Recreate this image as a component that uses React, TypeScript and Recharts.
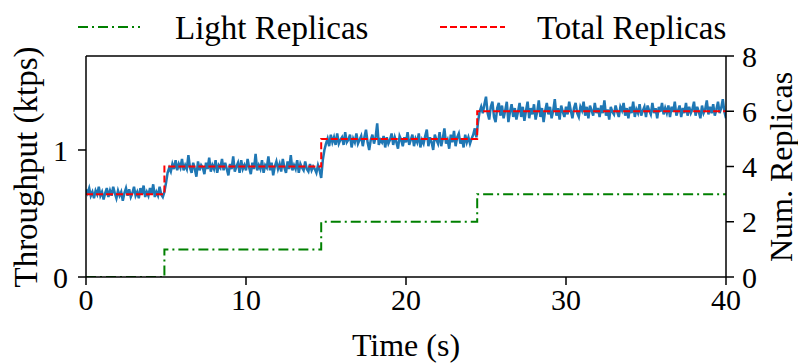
import React from 'react';
import { LineChart, Line, XAxis, YAxis, ReferenceLine, Legend } from 'recharts';

const FONT = '"Liberation Serif", "Times New Roman", serif';

// Throughput (ktps), sampled every 0.1 s from t = 0 to t = 40
const sampleStep = 0.1;
const throughput = [
  0.69,0.66,0.70,0.64,0.67,0.62,0.68,0.65,0.71,0.64,
  0.67,0.61,0.66,0.70,0.63,0.68,0.64,0.71,0.66,0.62,
  0.68,0.64,0.67,0.60,0.66,0.70,0.64,0.69,0.63,0.66,
  0.71,0.64,0.67,0.62,0.70,0.65,0.72,0.63,0.67,0.64,
  0.70,0.65,0.73,0.63,0.67,0.64,0.71,0.65,0.63,0.67,
  0.74,0.82,0.86,0.83,0.89,0.85,0.92,0.84,0.89,0.86,
  0.93,0.84,0.88,0.85,0.96,0.86,0.82,0.90,0.85,0.79,
  0.91,0.84,0.88,0.86,0.81,0.90,0.85,0.94,0.83,0.88,
  0.85,0.92,0.82,0.88,0.86,0.93,0.84,0.90,0.85,0.80,
  0.89,0.85,0.95,0.83,0.87,0.90,0.82,0.92,0.85,0.88,
  0.84,0.93,0.86,0.81,0.90,0.85,0.97,0.84,0.88,0.85,
  0.92,0.82,0.88,0.86,0.95,0.84,0.90,0.80,0.87,0.91,
  0.85,0.89,0.83,0.93,0.86,0.82,0.91,0.85,0.96,0.84,
  0.88,0.85,0.92,0.82,0.89,0.86,0.84,0.91,0.85,0.83,
  0.89,0.84,0.87,0.85,0.82,0.88,0.84,0.78,0.92,1.00,
  1.05,1.09,1.03,1.12,1.06,1.10,1.04,1.13,1.05,1.08,
  1.10,1.04,1.14,1.06,1.08,1.12,1.02,1.09,1.06,1.13,
  1.05,1.08,1.11,1.03,1.10,1.16,1.06,1.00,1.08,1.12,
  1.05,1.10,1.21,1.04,1.08,1.06,1.11,1.02,1.10,1.05,
  1.08,1.13,1.04,1.10,1.06,1.01,1.11,1.08,1.03,1.10,
  1.06,1.14,1.04,1.08,1.12,1.03,1.09,1.06,1.13,1.02,
  1.08,1.05,1.11,1.16,1.03,1.10,1.06,1.00,1.12,1.08,
  1.05,1.14,1.03,1.09,1.17,1.05,1.08,1.01,1.12,1.06,
  1.15,1.03,1.10,1.13,1.05,1.09,1.02,1.12,1.06,1.10,
  1.05,1.09,1.12,1.17,1.10,1.22,1.30,1.34,1.29,1.36,
  1.42,1.29,1.24,1.34,1.38,1.26,1.22,1.33,1.37,1.27,
  1.35,1.25,1.31,1.38,1.22,1.30,1.36,1.26,1.33,1.24,
  1.30,1.37,1.26,1.34,1.23,1.31,1.38,1.25,1.33,1.28,
  1.36,1.24,1.30,1.39,1.26,1.33,1.22,1.31,1.37,1.28,
  1.34,1.25,1.31,1.40,1.27,1.33,1.24,1.35,1.30,1.26,
  1.34,1.28,1.38,1.31,1.25,1.33,1.37,1.29,1.26,1.34,
  1.31,1.38,1.27,1.34,1.25,1.35,1.31,1.27,1.37,1.29,
  1.33,1.26,1.35,1.29,1.39,1.27,1.32,1.24,1.34,1.30,
  1.28,1.35,1.30,1.26,1.34,1.31,1.37,1.27,1.33,1.25,
  1.34,1.29,1.38,1.26,1.32,1.29,1.36,1.27,1.31,1.34,
  1.26,1.35,1.31,1.28,1.37,1.29,1.33,1.25,1.34,1.30,
  1.37,1.28,1.33,1.29,1.35,1.26,1.34,1.30,1.38,1.27,
  1.31,1.35,1.26,1.33,1.29,1.37,1.27,1.34,1.29,1.32,
  1.38,1.27,1.34,1.30,1.25,1.35,1.29,1.32,1.39,1.28,
  1.34,1.29,1.36,1.27,1.32,1.38,1.29,1.33,1.40,1.30,
  1.25,
];

// Replica counts (step changes)
const stepTimes = [0, 4.9, 14.7, 24.45, 40];
const totalReplicas = [3, 4, 5, 6, 6];
const lightReplicas = [0, 1, 2, 3, 3];

const xTicks = [0, 10, 20, 30, 40];
const leftTicks = [0, 1];
const rightTicks = [0, 2, 4, 6, 8];

const tpData = throughput.map((v, i) => ({ t: +(i * sampleStep).toFixed(1), v }));
const totalData = stepTimes.map((t, i) => ({ t, v: totalReplicas[i] }));
const lightData = stepTimes.map((t, i) => ({ t, v: lightReplicas[i] }));

const tickStyle = { fill: '#000', fontSize: 30, fontFamily: FONT };

const renderLegend = () => (
  <svg width={798} height={50} style={{ display: 'block' }}>
    <line x1={78} x2={140} y1={27} y2={27} stroke="#008000" strokeWidth={2} strokeDasharray="10 4 2 4" />
    <text x={175} y={39} fontFamily={FONT} fontSize={33} fill="#000">Light Replicas</text>
    <line x1={440} x2={505} y1={27} y2={27} stroke="#ff0000" strokeWidth={2} strokeDasharray="7 3" />
    <text x={537} y={39} fontFamily={FONT} fontSize={33} fill="#000">Total Replicas</text>
  </svg>
);

export default function App() {
  return (
    <div style={{ position: 'absolute', left: 0, top: 0, width: 798, height: 363, background: '#fff' }}>
      <LineChart width={798} height={363} margin={{ top: 56, right: 0, bottom: 0, left: 0 }} style={{ fontFamily: FONT }}>
        <XAxis
          type="number"
          dataKey="t"
          domain={[0, 40]}
          ticks={xTicks}
          height={86}
          tickSize={8}
          tickMargin={4}
          stroke="#000"
          strokeWidth={1.5}
          tick={tickStyle}
          allowDataOverflow
          label={() => (
            <text x={406} y={345} textAnchor="middle" dominantBaseline="central" fontFamily={FONT} fontSize={32} fill="#000">Time (s)</text>
          )}
        />
        <YAxis
          yAxisId="left"
          orientation="left"
          width={86}
          domain={[0, 1.74]}
          ticks={leftTicks}
          tickSize={8}
          tickMargin={10}
          stroke="#000"
          strokeWidth={1.5}
          tick={tickStyle}
          allowDataOverflow
          label={() => (
            <text x={26} y={167} transform="rotate(-90, 26, 167)" textAnchor="middle" dominantBaseline="central" fontFamily={FONT} fontSize={33} fill="#000">Throughput (ktps)</text>
          )}
        />
        <YAxis
          yAxisId="right"
          orientation="right"
          width={72}
          domain={[0, 8]}
          ticks={rightTicks}
          tickSize={8}
          tickMargin={8}
          stroke="#000"
          strokeWidth={1.5}
          tick={tickStyle}
          allowDataOverflow
          label={() => (
            <text x={781} y={167} transform="rotate(-90, 781, 167)" textAnchor="middle" dominantBaseline="central" fontFamily={FONT} fontSize={32} fill="#000">Num. Replicas</text>
          )}
        />
        <ReferenceLine yAxisId="right" y={8} stroke="#000" strokeWidth={1.5} />
        <Line yAxisId="left" data={tpData} dataKey="v" type="linear" stroke="#1f77b4" strokeWidth={2.5} dot={false} isAnimationActive={false} />
        <Line yAxisId="right" data={totalData} dataKey="v" type="stepAfter" stroke="#ff0000" strokeWidth={2} strokeDasharray="7 3" dot={false} isAnimationActive={false} />
        <Line yAxisId="right" data={lightData} dataKey="v" type="stepAfter" stroke="#008000" strokeWidth={2} strokeDasharray="10 4 2 4" dot={false} isAnimationActive={false} />
        <Legend verticalAlign="middle" align="center" layout="horizontal" wrapperStyle={{ top: 0, left: 0, width: 798, height: 50 }} content={renderLegend} />
      </LineChart>
    </div>
  );
}
